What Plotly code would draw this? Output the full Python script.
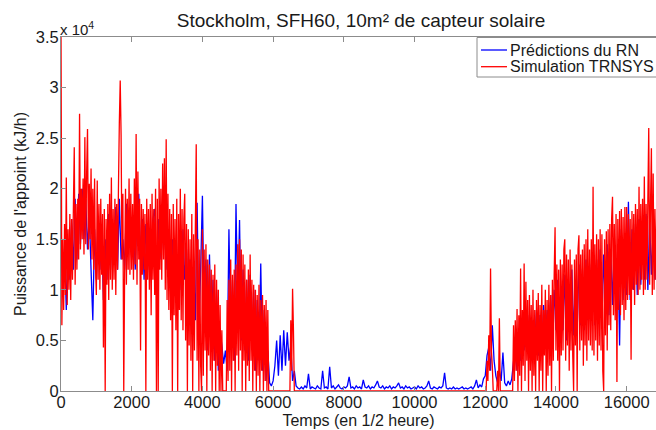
import plotly.graph_objects as go

red_step = 25
blue_step = 50

# Simulation TRNSYS, in units of 100 kJ/h, one value every 25 half-hours
red_vals = [
    360, 65, 150, 80, 165, 95, 211, 85, 160, 100, 175, 90, 170, 110, 180, 241, 105, 185, 120, 190,
    130, 274, 140, 200, 150, 210, 135, 251, 145, 215, 259, 140, 205, 150, 220, 130, 200, 120, 210, 125,
    95, 208, 110, 185, 100, 190, 115, 175, 43, 180, 0, 170, 105, 185, 90, 195, 110, 211, 100, 180,
    110, 190, 95, 185, 120, 200, 265, 307, 253, 130, 195, 0, 120, 200, 105, 190, 120, 210, 115, 195,
    120, 185, 110, 210, 125, 254, 105, 217, 130, 190, 40, 185, 115, 180, 120, 175, 0, 190, 110, 180,
    100, 185, 75, 195, 110, 180, 95, 200, 0, 190, 0, 210, 120, 200, 110, 225, 130, 230, 100, 249,
    90, 195, 80, 180, 70, 175, 0, 185, 75, 170, 60, 190, 0, 175, 80, 200, 70, 180, 60, 170,
    195, 50, 165, 0, 160, 45, 150, 30, 175, 0, 155, 40, 160, 244, 30, 150, 0, 140, 25, 0,
    160, 15, 140, 40, 145, 0, 130, 35, 125, 20, 120, 0, 115, 30, 125, 0, 110, 25, 100, 0,
    85, 0, 60, 0, 0, 0, 0, 0, 90, 10, 110, 20, 130, 0, 115, 30, 120, 0, 125, 35,
    145, 20, 150, 40, 140, 0, 135, 30, 125, 0, 110, 25, 120, 10, 135, 30, 110, 0, 105, 20,
    100, 0, 95, 15, 105, 0, 90, 20, 95, 0, 85, 10, 90, 0, 80, 0, 0, 0, 0, 0,
    0, 0, 0, 0, 0, 0, 0, 0, 0, 0, 0, 0, 0, 0, 0, 0, 0, 0, 0, 0,
    70, 20, 101, 60, 0, 0, 0, 0, 0, 0, 0, 0, 0, 0, 0, 0, 0, 0, 0, 0,
    0, 0, 0, 0, 0, 0, 0, 0, 0, 0, 0, 0, 0, 0, 0, 0, 0, 0, 0, 0,
    0, 0, 0, 0, 0, 0, 0, 0, 0, 0, 0, 0, 0, 0, 0, 0, 0, 0, 0, 0,
    0, 0, 0, 0, 0, 0, 0, 0, 0, 0, 0, 0, 0, 0, 0, 0, 0, 0, 0, 0,
    0, 0, 0, 0, 0, 0, 0, 0, 0, 0, 0, 0, 0, 0, 0, 0, 0, 0, 0, 0,
    0, 0, 0, 0, 0, 0, 0, 0, 0, 0, 0, 0, 0, 0, 0, 0, 0, 0, 0, 0,
    0, 0, 0, 0, 0, 0, 0, 0, 0, 0, 0, 0, 0, 0, 0, 0, 0, 0, 0, 0,
    0, 0, 0, 0, 0, 0, 0, 0, 0, 0, 0, 0, 0, 0, 0, 0, 0, 0, 0, 0,
    0, 0, 0, 0, 0, 0, 0, 0, 0, 0, 0, 0, 0, 0, 0, 0, 0, 0, 0, 0,
    0, 0, 0, 0, 0, 0, 0, 0, 0, 0, 0, 0, 0, 0, 0, 0, 0, 0, 0, 0,
    0, 0, 0, 0, 0, 0, 0, 0, 0, 0, 0, 0, 0, 0, 0, 0, 0, 0, 0, 0,
    0, 0, 30, 10, 55, 20, 121, 40, 25, 0, 0, 0, 0, 0, 20, 0, 72, 0, 0, 0,
    0, 0, 0, 0, 0, 0, 0, 0, 0, 0, 0, 0, 65, 10, 70, 20, 81, 0, 75, 15,
    121, 0, 80, 25, 126, 10, 108, 30, 90, 0, 95, 20, 85, 0, 100, 15, 80, 0, 90, 30,
    97, 0, 85, 20, 105, 0, 80, 35, 100, 0, 90, 15, 105, 25, 95, 0, 110, 30, 115, 162,
    40, 125, 30, 120, 0, 130, 35, 125, 40, 140, 150, 30, 135, 45, 130, 20, 140, 40, 125, 35,
    0, 130, 45, 135, 0, 140, 154, 40, 135, 50, 140, 25, 145, 45, 150, 30, 160, 50, 140, 45,
    150, 40, 202, 35, 145, 50, 155, 30, 150, 45, 160, 40, 155, 20, 0, 150, 55, 158, 40, 160,
    65, 165, 60, 170, 192, 75, 165, 70, 175, 9, 170, 80, 178, 75, 180, 85, 172, 70, 182, 80,
    182, 90, 175, 95, 170, 31, 178, 100, 175, 85, 185, 105, 180, 95, 202, 100, 185, 110, 190, 95,
    212, 100, 185, 110, 190, 260, 105, 185, 240, 95, 215, 100, 180, 110, 175,
]

# Prédictions du RN, in units of 100 kJ/h, one value every 50 half-hours
blue_vals = [
    165, 100, 140, 80, 150, 110, 170, 120, 190, 130, 195, 145, 200, 150, 190, 140, 175, 120, 70, 160,
    110, 170, 120, 160, 90, 150, 110, 175, 120, 170, 130, 182, 120, 190, 130, 150, 120, 185, 135, 170,
    130, 170, 120, 180, 195, 130, 170, 110, 165, 120, 160, 110, 170, 180, 100, 170, 130, 175, 140, 170,
    120, 160, 110, 150, 100, 145, 90, 150, 100, 160, 110, 140, 80, 130, 60, 120, 70, 186, 60, 120,
    193, 70, 130, 40, 135, 50, 110, 30, 100, 20, 60, 45, 27, 40, 20, 160, 60, 110, 30, 185,
    80, 169, 50, 120, 40, 110, 30, 115, 50, 100, 20, 90, 30, 126, 20, 80, 10, 40, 8, 5,
    10, 25, 50, 15, 55, 20, 60, 25, 58, 30, 45, 10, 20, 5, 3, 2, 4, 2, 5, 3,
    17, 2, 4, 3, 2, 5, 3, 2, 20, 3, 4, 2, 24, 3, 5, 2, 4, 6, 3, 2,
    4, 3, 5, 14, 3, 4, 2, 5, 3, 4, 2, 11, 4, 3, 5, 2, 4, 3, 6, 10,
    4, 3, 5, 2, 4, 3, 5, 2, 4, 3, 5, 8, 3, 4, 2, 5, 3, 4, 2, 3,
    4, 2, 5, 3, 4, 2, 3, 5, 10, 3, 2, 4, 3, 2, 4, 3, 5, 18, 3, 2,
    3, 2, 4, 2, 3, 2, 3, 4, 2, 3, 2, 3, 4, 2, 5, 11, 3, 6, 4, 12,
    15, 35, 43, 20, 65, 30, 15, 8, 20, 10, 38, 8, 5, 10, 6, 12, 29, 40, 20, 55,
    30, 70, 40, 80, 50, 75, 30, 70, 45, 80, 35, 75, 40, 85, 45, 80, 50, 95, 55, 100,
    60, 110, 55, 100, 60, 115, 50, 110, 65, 120, 55, 110, 60, 125, 65, 120, 60, 130, 70, 125,
    70, 135, 65, 130, 75, 140, 70, 135, 80, 145, 75, 140, 85, 150, 80, 145, 45, 160, 90, 155,
    95, 187, 90, 160, 100, 165, 95, 170, 105, 165, 110, 175, 100, 170, 115, 160, 110, 165,
]

series_names = ["Prédictions du RN", "Simulation TRNSYS"]
series_colors = ["#0000ff", "#ff0000"]

x_ticks = [0, 2000, 4000, 6000, 8000, 10000, 12000, 14000, 16000]
x_tick_labels = ["0", "2000", "4000", "6000", "8000", "10000", "12000", "14000", "16000"]
y_ticks = [0, 5000, 10000, 15000, 20000, 25000, 30000, 35000]
y_tick_labels = ["0", "0.5", "1", "1.5", "2", "2.5", "3", "3.5"]

t_red = [i * red_step for i in range(len(red_vals))]
t_blue = [i * blue_step for i in range(len(blue_vals))]

FONT = "Liberation Sans, Arial, sans-serif"
AX = "#8c8c8c"
TXT = "#1a1a1a"

fig = go.Figure()
fig.add_trace(go.Scatter(x=t_blue, y=[v * 100 for v in blue_vals], mode="lines",
                         name=series_names[0],
                         line=dict(color=series_colors[0], width=1.3, simplify=False)))
fig.add_trace(go.Scatter(x=t_red, y=[v * 100 for v in red_vals], mode="lines",
                         name=series_names[1],
                         line=dict(color=series_colors[1], width=1.3, simplify=False)))

# Plot-area geometry in pixels (for placing the Matlab-style legend box)
L, R, T, B = 61, 656, 37, 391
def px(x):
    return (x - L) / (R - L)
def py(y):
    return (B - y) / (B - T)

shapes = [dict(type="rect", xref="paper", yref="paper", x0=px(477), x1=px(720),
               y0=py(77), y1=py(37.5), fillcolor="white", line=dict(color=AX, width=1),
               layer="above")]
annotations = [dict(text="x 10<sup>4</sup>", xref="paper", yref="paper", x=0, y=1,
                    xanchor="left", yanchor="bottom", showarrow=False, xshift=-3,
                    font=dict(size=15, color=TXT), yshift=-3)]
for k, (name, col) in enumerate(zip(series_names, series_colors)):
    yrow = 50 + k * 16.7
    shapes.append(dict(type="line", xref="paper", yref="paper", x0=px(481), x1=px(507),
                       y0=py(yrow), y1=py(yrow), line=dict(color=col, width=1.3),
                       layer="above"))
    annotations.append(dict(text=name, xref="paper", yref="paper", x=px(508), y=py(yrow),
                            xanchor="left", yanchor="middle", showarrow=False,
                            font=dict(size=16, color=TXT)))

fig.update_layout(
    width=656, height=430,
    margin=dict(l=L, r=0, t=T, b=430 - B, autoexpand=False),
    paper_bgcolor="white", plot_bgcolor="white",
    font=dict(family=FONT, size=16, color=TXT),
    title=dict(text="Stockholm, SFH60, 10m² de capteur solaire",
               x=361 / 656, xref="container", xanchor="center",
               y=1 - 20 / 430, yref="container", yanchor="middle",
               font=dict(size=19, color=TXT)),
    showlegend=False,
    xaxis=dict(range=[0, 16830], tickvals=x_ticks, ticktext=x_tick_labels,
               ticks="inside", ticklen=5, ticklabelstandoff=-4,
               tickcolor=AX, showline=True, linecolor=AX, linewidth=1, mirror="ticks",
               showgrid=False, zeroline=False,
               title=dict(text="Temps (en 1/2 heure)", font=dict(size=16), standoff=5),
               tickfont=dict(size=16.5)),
    yaxis=dict(range=[0, 35000], tickvals=y_ticks, ticktext=y_tick_labels,
               ticks="inside", ticklen=5, ticklabelstandoff=-2, tickcolor=AX,
               showline=True, linecolor=AX,
               linewidth=1, mirror=False, showgrid=False, zeroline=False,
               title=dict(text="Puissance de l'appoint (kJ/h)", font=dict(size=16), standoff=5),
               tickfont=dict(size=16.5)),
    shapes=shapes,
    annotations=annotations,
)

fig.write_html("out.html", post_script="document.body.style.margin='0';",
               config={"displayModeBar": False})
